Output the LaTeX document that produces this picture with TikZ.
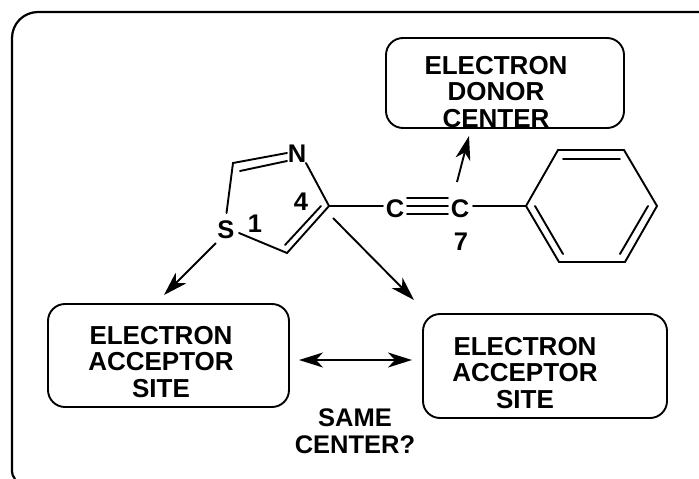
\documentclass[tikz,border=0pt]{standalone}
\usepackage{fontspec}
\setmainfont{Liberation Sans}
\usetikzlibrary{arrows.meta}
\newcommand{\lbl}{\fontsize{26pt}{26.8pt}\selectfont\bfseries}
\newcommand{\atm}{\fontsize{25.5pt}{27.5pt}\selectfont\bfseries}
\tikzset{
  x=1pt,y=-1pt,
  bond/.style={line width=1.9pt,line cap=round},
  frameline/.style={line width=2.2pt},
  sitebox/.style={draw,line width=1.9pt,rounded corners=17pt,inner sep=0pt},
  boxtext/.style={inner sep=0pt,align=center,font=\lbl},
  txt/.style={inner sep=0pt,align=center,font=\atm},
  tipshape/.style={},
  reaction/.style={line width=1.9pt,-{Stealth[length=24pt,width=15pt,inset=7pt]}},
  both/.style={line width=1.9pt,{Stealth[length=24pt,width=15pt,inset=7pt]}-{Stealth[length=24pt,width=15pt,inset=7pt]}}
}
\begin{document}
\begin{tikzpicture}
\useasboundingbox (0,0) rectangle (699,479);
\draw[frameline,rounded corners=26pt] (12,440) -- (12,12) -- (699,12);
\draw[frameline] (12,440) -- (12,470) .. controls (12,474) and (13,477) .. (15,479);
% boxes
\node[sitebox,minimum width=238pt,minimum height=90pt] (donor) at (505,83) {};
\node[sitebox,minimum width=241pt,minimum height=103pt] (acc1) at (168.5,355.5) {};
\node[sitebox,minimum width=244pt,minimum height=104pt] (acc2) at (545,366) {};
\node[boxtext] (donortext) at (496,92) {ELECTRON\\DONOR\\CENTER};
\node[boxtext] (acc1text) at (161,362) {ELECTRON\\ACCEPTOR\\SITE};
\node[boxtext] (acc2text) at (525,373) {ELECTRON\\ACCEPTOR\\SITE};
% atoms
\node[txt] (S) at (226,230) {S};
\node[txt] (N) at (297,154) {N};
\node[txt] (Ca) at (395,208.5) {C};
\node[txt] (Cb) at (460,208.5) {C};
\node[txt] (n1) at (255,224) {1};
\node[txt] (n4) at (301,202) {4};
\node[txt] (n7) at (461,242) {7};
\node[txt] (same) at (355,431) {SAME\\CENTER?};
% ring vertices
\coordinate (c2) at (233,163);
\coordinate (c4) at (329,206);
\coordinate (c5) at (287,253);
\coordinate (c2i) at (240,171);
\coordinate (Ni) at (287,161);
\coordinate (c5i) at (285,245);
\coordinate (c4i) at (321,206);
\coordinate (Nw) at (287,153);
\coordinate (Nse) at (306,163);
\coordinate (Sn) at (226.5,213);
\coordinate (Se) at (239,233);
\coordinate (Caw) at (383,206);
\coordinate (t1a) at (407,198); \coordinate (t1b) at (448,198);
\coordinate (t2a) at (407,206); \coordinate (t2b) at (448,206);
\coordinate (t3a) at (407,214); \coordinate (t3b) at (448,214);
\coordinate (Cbe) at (473,206);
\coordinate (b1) at (526,206);
\coordinate (b2) at (558,150);
\coordinate (b3) at (624,150);
\coordinate (b4) at (657,206);
\coordinate (b5) at (625,262);
\coordinate (b6) at (559,262);
\coordinate (i1) at (563,159); \coordinate (i2) at (620,159);
\coordinate (i3) at (535,206); \coordinate (i4) at (563,254);
\coordinate (i5) at (648,206); \coordinate (i6) at (620,254);
% bonds
\draw[bond] (Nw) -- (c2) -- (Sn);
\draw[bond] (c2i) -- (Ni);
\draw[bond] (Se) -- (c5) -- (c4) -- (Nse);
\draw[bond] (c5i) -- (c4i);
\draw[bond] (c4) -- (Caw);
\draw[bond] (t1a) -- (t1b);
\draw[bond] (t2a) -- (t2b);
\draw[bond] (t3a) -- (t3b);
\draw[bond] (Cbe) -- (b1);
\draw[bond] (b1) -- (b2) -- (b3) -- (b4) -- (b5) -- (b6) -- cycle;
\draw[bond] (i1) -- (i2);
\draw[bond] (i3) -- (i4);
\draw[bond] (i5) -- (i6);
% arrows
\coordinate (u0) at (457,182); \coordinate (u1) at (469,136);
\coordinate (s0) at (216,243); \coordinate (s1) at (164,295);
\coordinate (r0) at (333,218); \coordinate (r1) at (414,300);
\coordinate (d0) at (299,360); \coordinate (d1) at (412,360);
\draw[reaction] (u0) -- (u1);
\draw[reaction] (s0) -- (s1);
\draw[reaction] (r0) -- (r1);
\draw[both] (d0) -- (d1);
\end{tikzpicture}
\end{document}
